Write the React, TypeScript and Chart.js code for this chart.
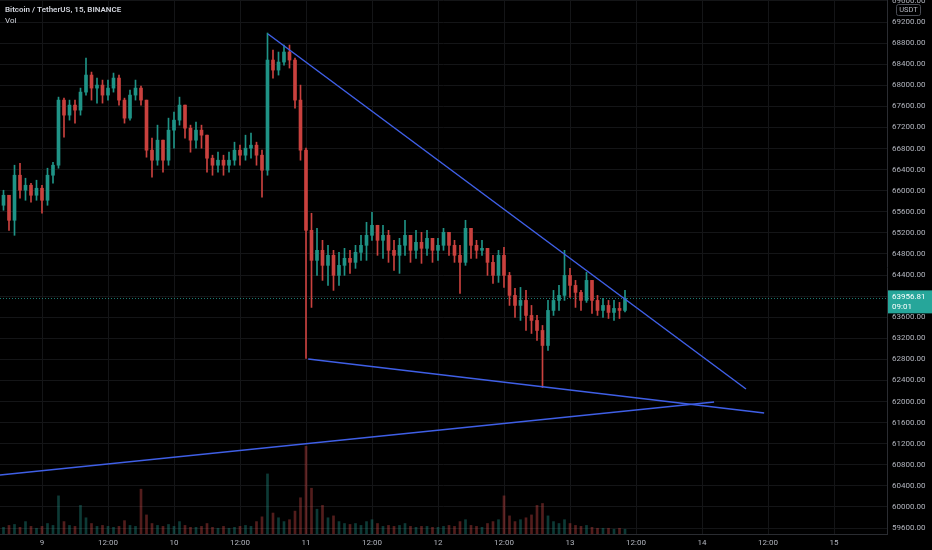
import React, { useEffect, useRef } from "react";
import { Chart, registerables } from "chart.js";

Chart.register(...registerables);

// ---- data (hourly candles, hour 0 = day 9 00:00) ----
const startHour = -7;
const firstOpen = 65723;
const closes = [
  65913, 65438, 66293, 66008, 66103, 65913, 66046,
  65818, 66293, 66483, 67718, 67433, 67623, 67528,
  67870, 68193, 67946, 68003, 67813, 67946, 68136,
  67718, 67376, 67813, 67946, 67718, 66768, 66578,
  66958, 66578, 67148, 67338, 67623, 67186, 66958,
  67148, 67053, 66616, 66483, 66578, 66483, 66578,
  66768, 66673, 66806, 66863, 66673, 66388, 68478,
  68288, 68440, 68630, 68478, 67718, 66768, 65248,
  64678, 64868, 64583, 64773, 64393, 64583, 64716,
  64640, 64830, 64963, 65153, 65343, 65058, 65153,
  64868, 64773, 64963, 65153, 64868, 65020, 64906,
  65096, 64868, 64963, 65210, 64963, 64773, 64640,
  65286, 64963, 64868, 64906, 64640, 64393, 64773,
  64393, 64013, 63823, 63918, 63633, 63538, 63348,
  63063, 63728, 63918, 64013, 64393, 64203, 64070,
  63918, 64298, 63918, 63728, 63823, 63690, 63766,
  63728, 63956.81,
];
const highs = [
  66008, 65913, 66483, 66521, 66236, 66141, 66198,
  66103, 66426, 66540, 67775, 67756, 67718, 67718,
  67946, 68516, 68250, 68136, 68098, 68098, 68231,
  68193, 67756, 67908, 68098, 67984, 67718, 66996,
  67243, 66958, 67376, 67490, 67775, 67623, 67243,
  67300, 67243, 67053, 66673, 66730, 66673, 66730,
  66920, 66863, 67053, 67091, 66920, 66768, 68991,
  68668, 68630, 68763, 68763, 68516, 68003, 66806,
  65571, 65286, 65058, 64963, 64868, 64830, 64906,
  64868, 64963, 65153, 65400, 65590, 65343, 65343,
  65248, 65058, 65096, 65438, 65096, 65248, 65210,
  65248, 65058, 65096, 65286, 65210, 65058, 64963,
  65438, 65286, 65058, 65058, 64906, 64773, 64868,
  64925, 64450, 64146, 64165, 64108, 63823, 63633,
  63443, 63918, 64108, 64203, 64868, 64526, 64298,
  64108, 64450, 64298, 64013, 63956, 63918, 63918,
  63880, 64108,
];
const lows = [
  65628, 65248, 65153, 65856, 65818, 65780, 65818,
  65571, 65723, 66141, 66426, 67015, 67338, 67281,
  67433, 67813, 67718, 67661, 67661, 67718, 67870,
  67623, 67281, 67338, 67718, 67623, 66635, 66255,
  66483, 66350, 66483, 66806, 67243, 66996, 66730,
  66806, 66806, 66350, 66293, 66350, 66293, 66350,
  66483, 66483, 66578, 66616, 66483, 65875, 66293,
  68136, 68193, 68383, 68326, 67566, 66578, 62816,
  63785, 64393, 64298, 64203, 64108, 64203, 64393,
  64431, 64526, 64678, 64678, 65058, 64773, 64716,
  64640, 64488, 64431, 64773, 64640, 64716, 64621,
  64773, 64640, 64678, 64868, 64773, 64640, 64051,
  64583, 64716, 64716, 64773, 64393, 64241, 64260,
  64165, 63823, 63595, 63538, 63348, 63291, 63158,
  62265, 62968, 63633, 63728, 63918, 63975, 63785,
  63728, 63880, 63671, 63633, 63595, 63576, 63538,
  63576, 63700,
];
const volumes = [
  350, 450, 500, 350, 650, 400, 300,
  400, 550, 450, 2000, 650, 450, 400,
  1500, 850, 550, 400, 450, 400, 350,
  400, 700, 450, 400, 2350, 1000, 550,
  450, 400, 500, 400, 650, 450, 350,
  350, 400, 550, 350, 300, 400, 300,
  350, 400, 450, 400, 650, 900, 3150,
  1100, 850, 650, 750, 1200, 1900, 4600,
  2400, 1300, 1500, 850, 950, 650, 550,
  500, 550, 450, 650, 750, 550, 400,
  450, 400, 450, 550, 400, 350, 400,
  400, 350, 350, 400, 450, 400, 650,
  750, 450, 400, 350, 550, 650, 750,
  2000, 950, 650, 750, 850, 1000, 1500,
  1600, 950, 650, 550, 750, 550, 450,
  400, 450, 350, 300, 300, 300, 250,
  300, 250,
];

const xTickHours = [0, 12, 24, 36, 48, 60, 72, 84, 96, 108, 120, 132, 144];
const xTickLabels = ["9", "12:00", "10", "12:00", "11", "12:00", "12", "12:00", "13", "12:00", "14", "12:00", "15"];
const yTickStart = 59600;
const yTickEnd = 69600;
const yTickStep = 400;

const lastPrice = 63956.81;
const lastPriceTimer = "09:01";
const titleText = "Bitcoin / TetherUS, 15, BINANCE";
const subTitleText = "Vol";
const currencyText = "USDT";

const upperTrendX = [41.1, 128.0];
const upperTrendY = [68972, 62237];
const lowerTrendX = [48.4, 131.3];
const lowerTrendY = [62807, 61782];
const supportTrendX = [-7.64, 122.2];
const supportTrendY = [60606, 61991];

// ---- styles ----
const UP = "#1f9386";
const DOWN = "#c9413e";
const UP_VOL = "rgba(38,166,154,0.35)";
const DOWN_VOL = "rgba(239,83,80,0.35)";
const LINE = "#3f5fe6";
const GRID = "#141517";
const AXIS_TEXT = "#b2b5be";
const FONT = "Roboto, 'Noto Sans', sans-serif";

export default function App() {
  const ref = useRef<HTMLCanvasElement | null>(null);

  useEffect(() => {
    document.body.style.margin = "0";
    document.body.style.background = "#000";
    const canvas = ref.current;
    if (!canvas) return;

    const xs = closes.map((_, i) => startHour + i);
    const opens = closes.map((_, i) => (i === 0 ? firstOpen : closes[i - 1]));
    const his = highs.map((h, i) => Math.max(h, opens[i], closes[i]));
    const los = lows.map((l, i) => Math.min(l, opens[i], closes[i]));
    const isUp = closes.map((c, i) => c >= opens[i]);
    const yTicks: { value: number }[] = [];
    for (let v = yTickStart; v <= yTickEnd; v += yTickStep) yTicks.push({ value: v });

    const bgPlugin = {
      id: "bg",
      beforeDraw(chart: any) {
        const ctx = chart.ctx;
        ctx.save();
        ctx.fillStyle = "#000000";
        ctx.fillRect(0, 0, chart.width, chart.height);
        ctx.restore();
      },
    };

    const overlayPlugin = {
      id: "overlay",
      beforeDatasetsDraw(chart: any) {
        const { ctx, chartArea, scales } = chart;
        const y = Math.round(scales.y.getPixelForValue(lastPrice)) + 0.5;
        ctx.save();
        ctx.strokeStyle = "rgba(38,166,154,0.75)";
        ctx.lineWidth = 1;
        ctx.setLineDash([1, 2]);
        ctx.beginPath();
        ctx.moveTo(chartArea.left, y);
        ctx.lineTo(chartArea.right, y);
        ctx.stroke();
        ctx.restore();
      },
      afterDraw(chart: any) {
        const { ctx, chartArea, scales } = chart;
        ctx.save();
        // title
        ctx.fillStyle = "#d1d4dc";
        ctx.textBaseline = "middle";
        ctx.textAlign = "left";
        ctx.font = `600 8px ${FONT}`;
        ctx.fillText(titleText, 5, 10);
        ctx.font = `400 8px ${FONT}`;
        ctx.fillText(subTitleText, 5, 20.5);

        // currency box
        const bx = chartArea.right + 9;
        ctx.fillStyle = "#000";
        ctx.fillRect(bx, 4, 24, 11);
        ctx.strokeStyle = "#4a4d55";
        ctx.lineWidth = 1;
        ctx.beginPath();
        const r = 2, w = 24, h = 11, x0 = bx + 0.5, y0 = 4.5;
        ctx.moveTo(x0 + r, y0);
        ctx.arcTo(x0 + w, y0, x0 + w, y0 + h, r);
        ctx.arcTo(x0 + w, y0 + h, x0, y0 + h, r);
        ctx.arcTo(x0, y0 + h, x0, y0, r);
        ctx.arcTo(x0, y0, x0 + w, y0, r);
        ctx.stroke();
        ctx.fillStyle = AXIS_TEXT;
        ctx.textAlign = "center";
        ctx.font = `400 7.5px ${FONT}`;
        ctx.fillText(currencyText, bx + 12.5, 10.5);

        // last price label
        const py = scales.y.getPixelForValue(lastPrice);
        ctx.fillStyle = "#26a69a";
        ctx.fillRect(chartArea.right + 1, py - 8, 44, 23);
        ctx.fillStyle = "#ffffff";
        ctx.textAlign = "left";
        ctx.font = `400 8px ${FONT}`;
        ctx.fillText(lastPrice.toFixed(2), chartArea.right + 5, py - 1);
        ctx.fillText(lastPriceTimer, chartArea.right + 5, py + 9);
        ctx.restore();
      },
    };

    const chart = new Chart(canvas, {
      type: "bar",
      data: {
        datasets: [
          {
            type: "line",
            data: upperTrendX.map((x, i) => ({ x, y: upperTrendY[i] })),
            borderColor: LINE,
            borderWidth: 1.5,
            pointRadius: 0,
            order: 0,
          },
          {
            type: "line",
            data: lowerTrendX.map((x, i) => ({ x, y: lowerTrendY[i] })),
            borderColor: LINE,
            borderWidth: 1.5,
            pointRadius: 0,
            order: 0,
          },
          {
            type: "line",
            data: supportTrendX.map((x, i) => ({ x, y: supportTrendY[i] })),
            borderColor: LINE,
            borderWidth: 1.5,
            pointRadius: 0,
            order: 0,
          },
          {
            type: "bar",
            data: xs.map((x, i) => ({ x, y: [opens[i], closes[i]] })),
            backgroundColor: isUp.map((u) => (u ? UP : DOWN)),
            barThickness: 3,
            minBarLength: 1,
            grouped: false,
            order: 1,
          } as any,
          {
            type: "bar",
            data: xs.map((x, i) => ({ x, y: [los[i], his[i]] })),
            backgroundColor: isUp.map((u) => (u ? UP : DOWN)),
            barThickness: 1,
            grouped: false,
            order: 2,
          } as any,
          {
            type: "bar",
            yAxisID: "yv",
            data: xs.map((x, i) => ({ x, y: volumes[i] })),
            backgroundColor: isUp.map((u) => (u ? UP_VOL : DOWN_VOL)),
            barThickness: 2,
            grouped: false,
            order: 3,
          } as any,
        ],
      },
      options: {
        animation: false,
        responsive: false,
        maintainAspectRatio: false,
        layout: { padding: 0 },
        plugins: { legend: { display: false }, tooltip: { enabled: false } },
        scales: {
          x: {
            type: "linear",
            position: "bottom",
            offset: false,
            min: -42 / 5.5,
            max: 845 / 5.5,
            grid: { color: GRID, drawTicks: false, offset: false },
            border: { display: true, color: "#2a2c31" },
            ticks: {
              color: AXIS_TEXT,
              font: { size: 8, family: FONT },
              padding: 4,
              maxRotation: 0,
              autoSkip: false,
              callback: (v: any) => {
                const i = xTickHours.indexOf(Number(v));
                return i >= 0 ? xTickLabels[i] : "";
              },
            },
            afterBuildTicks: (s: any) => {
              s.ticks = xTickHours.map((v) => ({ value: v }));
            },
            afterFit: (s: any) => {
              s.height = 16;
              s.paddingLeft = 0;
              s.paddingRight = 0;
            },
          },
          y: {
            position: "right",
            min: 59486.2,
            max: 69617.4,
            grid: { color: GRID, drawTicks: false },
            border: { display: true, color: "#2a2c31" },
            ticks: {
              color: AXIS_TEXT,
              font: { size: 8, family: FONT },
              padding: 5,
              callback: (v: any) => Number(v).toFixed(2),
            },
            afterBuildTicks: (s: any) => {
              s.ticks = yTicks.map((t) => ({ value: t.value }));
            },
            afterFit: (s: any) => {
              s.width = 45;
              s.paddingTop = 0;
              s.paddingBottom = 0;
            },
          },
          yv: {
            display: false,
            min: 0,
            max: 28000,
          },
        },
      },
      plugins: [bgPlugin, overlayPlugin],
    } as any);

    return () => chart.destroy();
  }, []);

  return (
    <div style={{ width: 932, height: 550, background: "#000" }}>
      <canvas ref={ref} width={932} height={550} style={{ display: "block", width: 932, height: 550 }} />
    </div>
  );
}
